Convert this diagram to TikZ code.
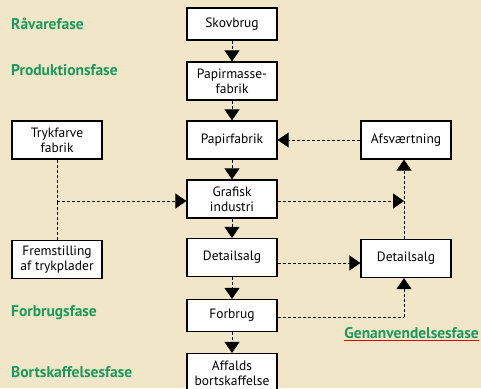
\documentclass[tikz,border=0pt]{standalone}
\usepackage{fontspec}
\setmainfont{PT Sans}
\usetikzlibrary{arrows.meta}
\definecolor{bg}{HTML}{F1E6C7}
\definecolor{phase}{HTML}{1A9A5C}
\begin{document}
\begin{tikzpicture}[x=1pt,y=-1pt,
  box/.style={draw=black,line width=1.2pt,fill=white,minimum width=90pt,minimum height=38pt,inner sep=1pt,align=center,font=\fontsize{13.5}{15}\selectfont},
  sbox/.style={box,minimum height=32pt},
  flow/.style={dash pattern=on 3pt off 2pt,line width=0.9pt,-{Triangle[length=11pt,width=15pt]}},
  plain/.style={dash pattern=on 3pt off 2pt,line width=0.9pt},
  phaselbl/.style={anchor=west,text=phase,font=\fontsize{15.5}{15.5}\selectfont\bfseries,inner sep=0pt}]
\fill[bg] (0,0) rectangle (481,388);
\useasboundingbox (0,0) rectangle (481,388);
% phase labels
\node[phaselbl] (p1) at (11,24) {Råvarefase};
\node[phaselbl] (p2) at (11,70) {Produktionsfase};
\node[phaselbl] (p3) at (11,313) {Forbrugsfase};
\node[phaselbl] (p4) at (11,372) {Bortskaffelsesfase};
\node[phaselbl,anchor=east] (p5) at (479,333) {Genanvendelsesfase};
\draw[red!85!black,line width=0.9pt] ([yshift=-2pt]p5.south west) -- ([yshift=-2pt]p5.south east);
% centre column
\node[sbox] (skov) at (232,24) {Skovbrug};
\node[box] (masse) at (232,81) {Papirmasse-\\fabrik};
\node[box] (papir) at (232,140) {Papirfabrik};
\node[box] (graf) at (232,199) {Grafisk\\industri};
\node[box] (det) at (232,257.5) {Detailsalg};
\node[sbox] (forb) at (232,315.5) {Forbrug};
\node[box,minimum height=40pt] (aff) at (232,373.5) {Affalds\\bortskaffelse};
% left column
\node[box] (tryk) at (57,140) {Trykfarve\\fabrik};
\node[box] (frem) at (57,259.5) {Fremstilling\\af trykplader};
% right column
\node[box] (afs) at (406,140) {Afsværtning};
\node[box] (det2) at (406,258.5) {Detailsalg};
% helper coordinates
\coordinate (j1) at (57,201);
\coordinate (j2) at (404,201);
\coordinate (j3) at (404,317);
% centre flow
\draw[flow] (skov) -- (masse);
\draw[flow] (masse) -- (papir);
\draw[flow] (papir) -- (graf);
\draw[flow] (graf) -- (det);
\draw[flow] (det) -- (forb);
\draw[flow] (forb) -- (aff);
% left inputs
\draw[plain] (tryk.south) -- (j1);
\draw[plain] (frem.north) -- (j1);
\draw[flow] (j1) -- (graf.west |- j1);
% right side
\draw[flow] (graf.east |- j2) -- (j2);
\draw[flow] (det2.north -| j2) -- (afs.south -| j2);
\draw[flow] (afs) -- (papir);
\draw[flow] (det.east |- 0,263) -- (det2.west |- 0,263);
\draw[plain] (forb.east |- j3) -- (j3);
\draw[flow] (j3) -- (det2.south -| j3);
\end{tikzpicture}
\end{document}
